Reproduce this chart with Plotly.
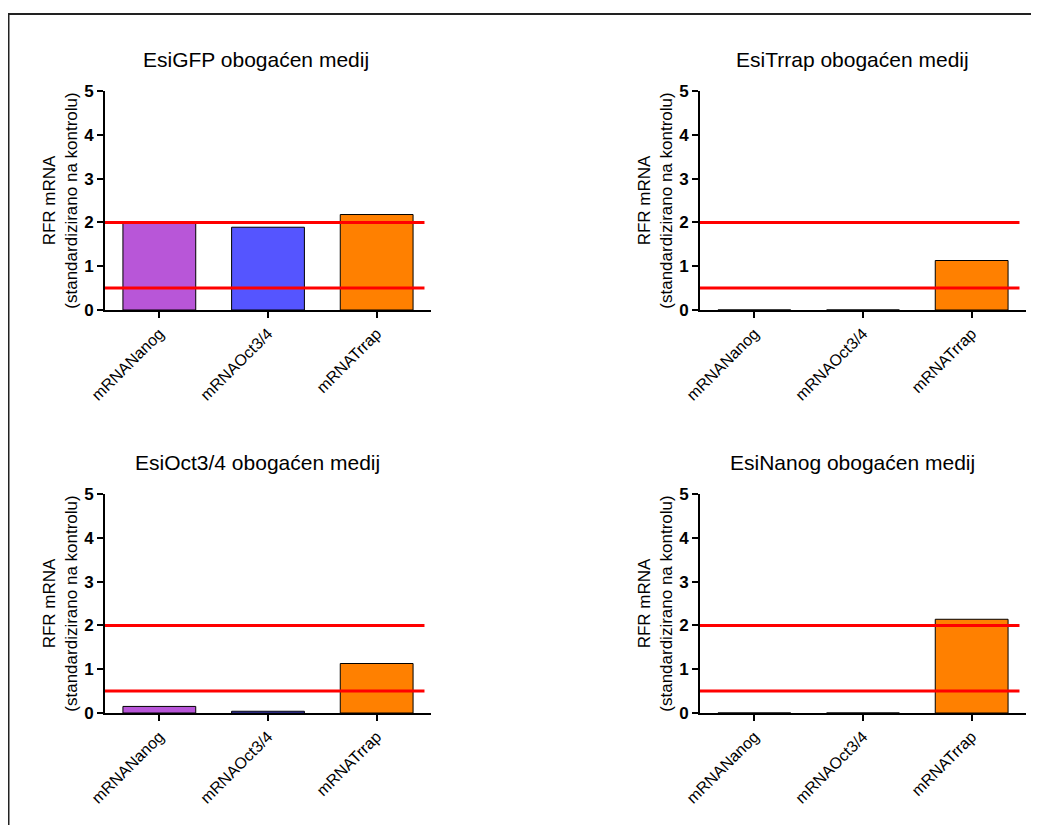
import plotly.graph_objects as go

categories = ["mRNANanog", "mRNAOct3/4", "mRNATrrap"]
bar_colors = ["#B856D8", "#5555FF", "#FF8000"]

titles = ["EsiGFP obogaćen medij", "EsiTrrap obogaćen medij",
          "EsiOct3/4 obogaćen medij", "EsiNanog obogaćen medij"]
esigfp_values = [2.00, 1.89, 2.18]
esitrrap_values = [0.0, 0.0, 1.13]
esioct_values = [0.15, 0.04, 1.13]
esinanog_values = [0.0, 0.0, 2.14]
panel_values = [esigfp_values, esitrrap_values, esioct_values, esinanog_values]
threshold_levels = [2.0, 0.5]
y_ticks = [0, 1, 2, 3, 4, 5]

W, H = 1039, 825
OFF = 8  # page body margin in the viewer
FONT = "Arial, 'Liberation Sans', sans-serif"


def px(x):
    return (x - OFF) / W


def py(y):
    return 1 - (y - OFF) / H


fig = go.Figure()

# panel geometry in screen pixels: x0, x1, ytop, ybottom
geo = [(105, 431, 91, 310), (700, 1026, 91, 310),
       (105, 431, 494, 713), (700, 1026, 494, 713)]
title_pos = [(256, 60), (852, 60), (257, 462), (852, 462)]

for i, (vals, (x0, x1, yt, yb)) in enumerate(zip(panel_values, geo)):
    n = i + 1
    xa = "x" if n == 1 else f"x{n}"
    ya = "y" if n == 1 else f"y{n}"
    fig.add_trace(go.Bar(
        x=categories, y=vals, xaxis=xa, yaxis=ya,
        marker=dict(color=bar_colors, line=dict(color="black", width=1)),
        width=0.67, showlegend=False))
    xkey = "xaxis" if n == 1 else f"xaxis{n}"
    ykey = "yaxis" if n == 1 else f"yaxis{n}"
    fig.update_layout({
        xkey: dict(domain=[px(x0), px(x1)], anchor=ya, range=[-0.5, 2.5], type="category",
                   categoryorder="array", categoryarray=categories, automargin=False,
                   showline=True, linecolor="black", linewidth=2,
                   ticks="outside", ticklen=6, tickwidth=2, tickcolor="black",
                   tickangle=-45, showgrid=False, zeroline=False,
                   tickfont=dict(family=FONT, size=16, color="black")),
        ykey: dict(domain=[py(yb), py(yt)], anchor=xa, range=[0, 5], tickvals=y_ticks,
                   automargin=False,
                   showline=True, linecolor="black", linewidth=2,
                   ticks="outside", ticklen=6, tickwidth=2, tickcolor="black",
                   showgrid=False, zeroline=False,
                   tickfont=dict(family=FONT, size=17, color="black", weight="bold"),
                   title=dict(text="RFR mRNA<br>(standardizirano na kontrolu)",
                              font=dict(family=FONT, size=17, color="black"),
                              standoff=2)),
    })
    for lvl in threshold_levels:
        fig.add_shape(type="line", xref=xa, yref=ya, x0=-0.57, x1=2.44,
                      y0=lvl, y1=lvl, line=dict(color="#FF0000", width=3))
    tx, ty = title_pos[i]
    fig.add_annotation(text=titles[i], xref="paper", yref="paper",
                       x=px(tx), y=py(ty), showarrow=False,
                       xanchor="center", yanchor="middle",
                       font=dict(family=FONT, size=21, color="black"))

# outer frame (left and top edges)
fig.add_shape(type="line", xref="paper", yref="paper", x0=0.0, x1=1.0,
              y0=py(14), y1=py(14), line=dict(color="#222", width=2))
fig.add_shape(type="line", xref="paper", yref="paper", x0=0.0, x1=0.0,
              y0=0.0, y1=py(14), line=dict(color="#222", width=3))

fig.update_layout(width=W, height=H, margin=dict(l=0, r=0, t=0, b=0, autoexpand=False),
                  template=None,
                  plot_bgcolor="white", paper_bgcolor="white", bargap=0.33,
                  font=dict(family=FONT))
fig.write_html("out.html")
